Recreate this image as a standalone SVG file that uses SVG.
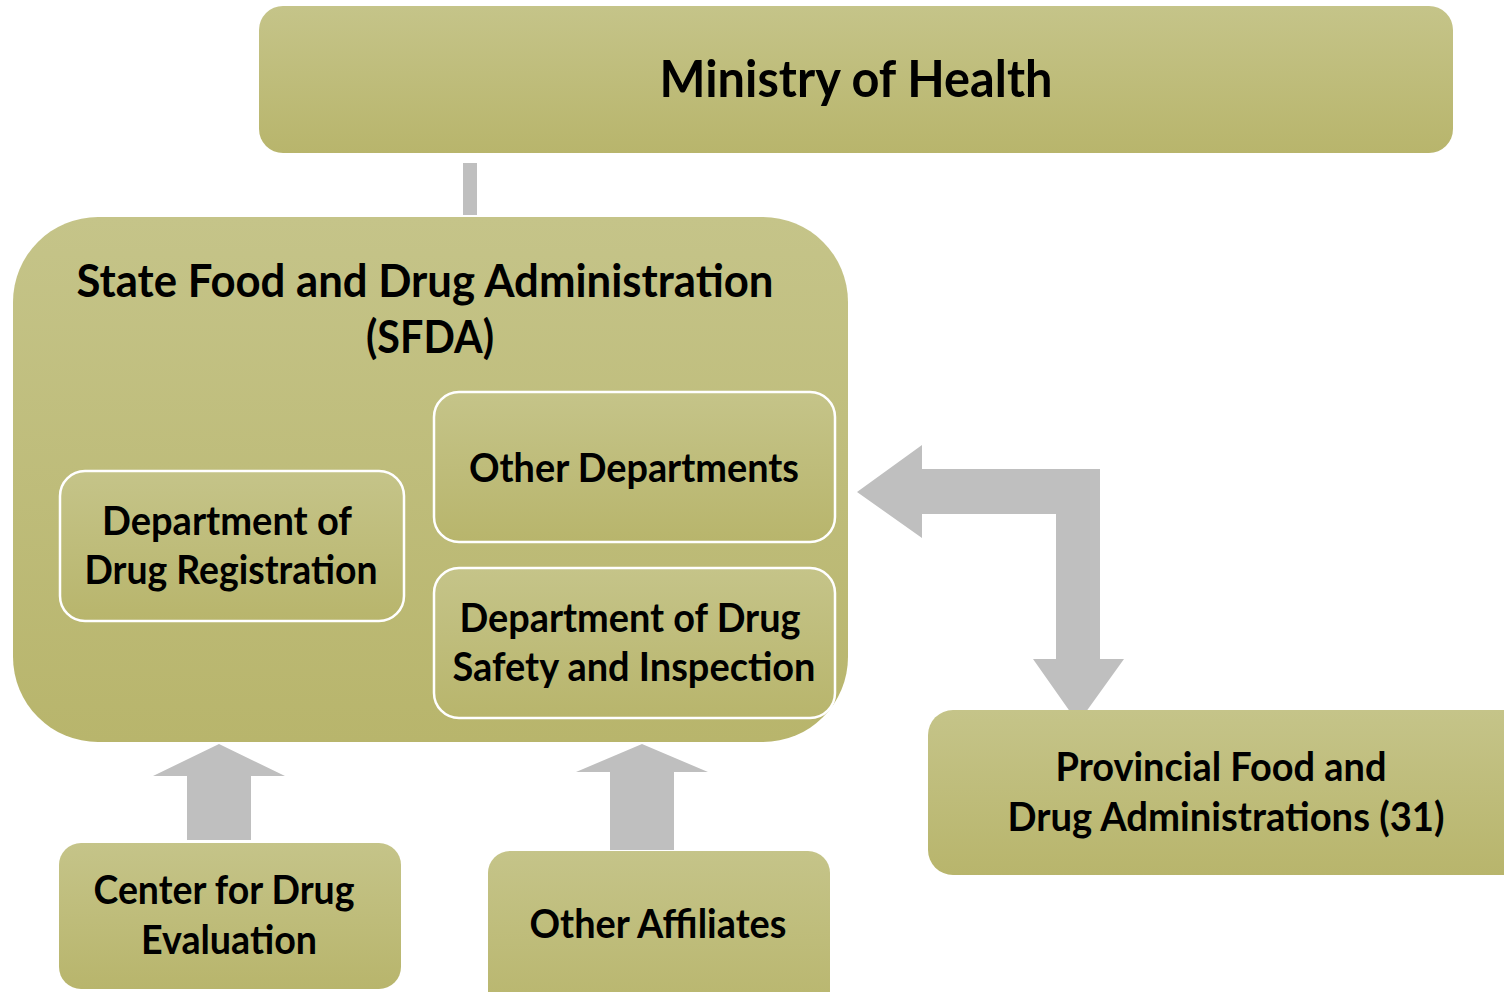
<svg xmlns="http://www.w3.org/2000/svg" width="1504" height="992" viewBox="0 0 1504 992">
<defs>
<linearGradient id="g" x1="0" y1="0" x2="0" y2="1">
<stop offset="0" stop-color="#c5c489"/>
<stop offset="1" stop-color="#b8b56c"/>
</linearGradient>
<style>
.box{fill:url(#g);}
.inner{fill:url(#g);stroke:#ffffff;stroke-width:2.5;}
.arrow{fill:#bfbfbf;}
text{font-family:Lato,"Liberation Sans",sans-serif;font-weight:700;fill:#000000;text-anchor:middle;}
.t40{font-size:40px;}
.t46{font-size:46px;}
.t52{font-size:52px;}
</style>
</defs>
<rect width="1504" height="992" fill="#ffffff"/>
<g id="connectors">
<rect class="arrow" x="463" y="163" width="14" height="52"/>
<polygon class="arrow" points="857,492 922,445 922,469 1100,469 1100,659 1124,659 1078,723 1033,659 1056,659 1056,514 922,514 922,538"/>
<polygon class="arrow" points="219,744 285,776 251,776 251,840 187,840 187,776 153,776"/>
<polygon class="arrow" points="642,744 708,772 674,772 674,850 610,850 610,772 576,772"/>
</g>
<g id="ministry">
<rect class="box" x="259" y="6" width="1194" height="147" rx="24"/>
<text class="t52" x="856" y="97" textLength="393" lengthAdjust="spacingAndGlyphs">Ministry of Health</text>
</g>
<g id="sfda">
<rect class="box" x="13" y="217" width="835" height="525" rx="85"/>
<text class="t46" x="425" y="297" textLength="697" lengthAdjust="spacingAndGlyphs">State Food and Drug Administration</text>
<text class="t46" x="430" y="353" textLength="128" lengthAdjust="spacingAndGlyphs">(SFDA)</text>
</g>
<g id="dept-registration">
<rect class="inner" x="60" y="471" width="344" height="150" rx="25"/>
<text class="t40" x="227" y="535" textLength="250" lengthAdjust="spacingAndGlyphs">Department of</text>
<text class="t40" x="231" y="584" textLength="293" lengthAdjust="spacingAndGlyphs">Drug Registration</text>
</g>
<g id="other-departments">
<rect class="inner" x="434" y="392" width="401" height="150" rx="25"/>
<text class="t40" x="634" y="482" textLength="330" lengthAdjust="spacingAndGlyphs">Other Departments</text>
</g>
<g id="dept-safety">
<rect class="inner" x="434" y="568" width="401" height="150" rx="25"/>
<text class="t40" x="630" y="632" textLength="341" lengthAdjust="spacingAndGlyphs">Department of Drug</text>
<text class="t40" x="634" y="681" textLength="363" lengthAdjust="spacingAndGlyphs">Safety and Inspection</text>
</g>
<g id="provincial">
<rect class="box" x="928" y="710" width="620" height="165" rx="25"/>
<text class="t40" x="1221" y="781" textLength="331" lengthAdjust="spacingAndGlyphs">Provincial Food and</text>
<text class="t40" x="1226" y="831" textLength="437" lengthAdjust="spacingAndGlyphs">Drug Administrations (31)</text>
</g>
<g id="center-drug-evaluation">
<rect class="box" x="59" y="843" width="342" height="146" rx="22"/>
<text class="t40" x="224" y="904" textLength="261" lengthAdjust="spacingAndGlyphs">Center for Drug</text>
<text class="t40" x="229" y="954" textLength="176" lengthAdjust="spacingAndGlyphs">Evaluation</text>
</g>
<g id="other-affiliates">
<rect class="box" x="488" y="851" width="342" height="170" rx="22"/>
<text class="t40" x="658" y="938" textLength="257" lengthAdjust="spacingAndGlyphs">Other Affiliates</text>
</g>
</svg>
